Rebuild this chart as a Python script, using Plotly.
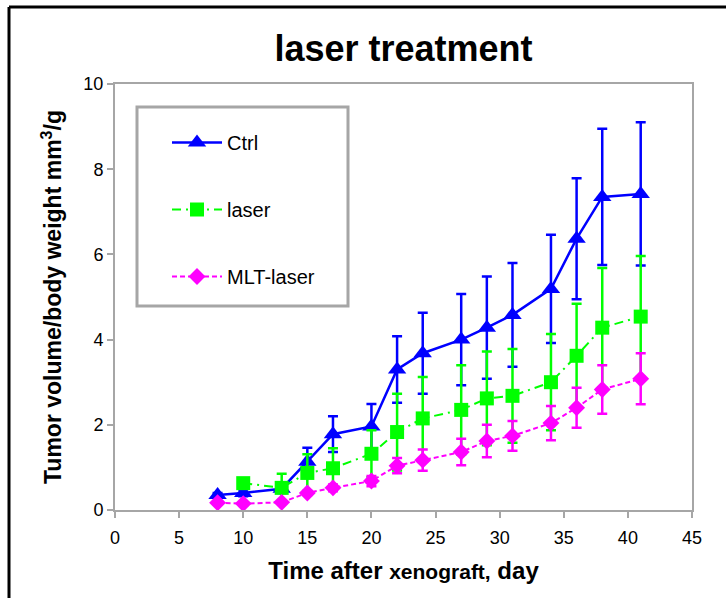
import plotly.graph_objects as go

days_ctrl = [8, 10, 13, 15, 17, 20, 22, 24, 27, 29, 31, 34, 36, 38, 41]
ctrl = [0.35, 0.40, 0.50, 1.13, 1.78, 1.96, 3.30, 3.68, 4.00, 4.28, 4.58, 5.19, 6.37, 7.35, 7.42]
ctrl_err = [0.05, 0.08, 0.10, 0.33, 0.42, 0.53, 0.78, 0.95, 1.07, 1.20, 1.22, 1.27, 1.42, 1.60, 1.68]

days_laser = [10, 13, 15, 17, 20, 22, 24, 27, 29, 31, 34, 36, 38, 41]
laser = [0.63, 0.52, 0.87, 0.98, 1.32, 1.83, 2.15, 2.35, 2.62, 2.68, 3.00, 3.62, 4.28, 4.54]
laser_err = [0.10, 0.33, 0.44, 0.47, 0.55, 0.90, 0.97, 1.05, 1.10, 1.10, 1.13, 1.22, 1.40, 1.42]

days_mlt = [8, 10, 13, 15, 17, 20, 22, 24, 27, 29, 31, 34, 36, 38, 41]
mlt = [0.17, 0.15, 0.18, 0.40, 0.52, 0.68, 1.04, 1.17, 1.36, 1.62, 1.74, 2.04, 2.40, 2.83, 3.08]
mlt_err = [0.03, 0.03, 0.03, 0.05, 0.08, 0.12, 0.18, 0.25, 0.31, 0.38, 0.35, 0.40, 0.47, 0.57, 0.60]

x_ticks = [0, 5, 10, 15, 20, 25, 30, 35, 40, 45]
y_ticks = [0, 2, 4, 6, 8, 10]

FONT = "Liberation Sans, Arial, sans-serif"
GRAY = "#a6a6a6"

fig = go.Figure()
fig.add_trace(go.Scatter(
    x=days_ctrl, y=ctrl, name="Ctrl", mode="lines+markers", legendgroup="a",
    line=dict(color="#0000ff", width=2.5),
    marker=dict(symbol="triangle-up", size=16, color="#0000ff"),
    error_y=dict(type="data", array=ctrl_err, color="#0000ff", thickness=2.5, width=5),
))
fig.add_trace(go.Scatter(
    x=days_laser, y=laser, name="laser", mode="lines+markers", legendgroup="b",
    line=dict(color="#00ff00", width=2, dash="9px,5px,2px,5px"),
    marker=dict(symbol="square", size=14, color="#00ff00"),
    error_y=dict(type="data", array=laser_err, color="#00ff00", thickness=2.5, width=5),
))
fig.add_trace(go.Scatter(
    x=days_mlt, y=mlt, name="MLT-laser", mode="lines+markers", legendgroup="c",
    line=dict(color="#ff00ff", width=2, dash="5px,3px"),
    marker=dict(symbol="diamond", size=13, color="#ff00ff"),
    error_y=dict(type="data", array=mlt_err, color="#ff00ff", thickness=2.5, width=5),
))

W, H = 726, 598
L, R, T, B = 115, 34, 84, 88
pw, ph = W - L - R, H - T - B

def px(xp):
    return (xp - L) / pw

def py(yp):
    return (H - B - yp) / ph

shapes = [
    # legend box
    dict(type="rect", xref="paper", yref="paper", x0=px(137), x1=px(348), y0=py(306), y1=py(107),
         line=dict(color=GRAY, width=3), fillcolor="rgba(0,0,0,0)", layer="below"),
    # outer black frame (top and left edges)
    dict(type="line", xref="paper", yref="paper", x0=px(9), x1=px(760), y0=py(7), y1=py(7),
         line=dict(color="black", width=3)),
    dict(type="line", xref="paper", yref="paper", x0=px(9), x1=px(9), y0=py(7), y1=py(640),
         line=dict(color="black", width=3)),
]

fig.update_layout(
    width=W, height=H,
    margin=dict(l=L, r=R, t=T, b=B, autoexpand=False),
    paper_bgcolor="white", plot_bgcolor="white",
    font=dict(family=FONT, color="black", size=17),
    title=dict(text="<b>laser treatment</b>", x=(L + pw / 2) / W, xanchor="center",
               y=1 - 48 / H, yanchor="middle", font=dict(size=36, family=FONT)),
    showlegend=True,
    legend=dict(x=px(167), y=py(123), xanchor="left", yanchor="top",
                bgcolor="rgba(0,0,0,0)", borderwidth=0, font=dict(size=20, family=FONT),
                tracegroupgap=38, itemwidth=50),
    shapes=shapes,
    xaxis=dict(range=[0, 45], tickvals=x_ticks, ticktext=[str(v) for v in x_ticks],
               showgrid=False, zeroline=False, showline=True, linecolor=GRAY, linewidth=2,
               mirror=True, ticks="outside", ticklen=6, tickcolor=GRAY, tickwidth=2,
               tickfont=dict(size=18), ticklabelstandoff=4,
               title=dict(text="<b>Time after </b><b><span style='font-size:21px'>xenograft,</span></b><b> day</b>",
                          font=dict(size=24), standoff=16)),
    yaxis=dict(range=[0, 10], tickvals=y_ticks, ticktext=[str(v) for v in y_ticks],
               showgrid=False, zeroline=False, showline=True, linecolor=GRAY, linewidth=2,
               mirror=True, ticks="outside", ticklen=6, tickcolor=GRAY, tickwidth=2,
               tickfont=dict(size=18),
               title=dict(text="<b>Tumor volume/body weight mm<sup>3</sup>/g</b>",
                          font=dict(size=23), standoff=15)),
)

fig.write_html("out.html", config={"displayModeBar": False},
               post_script="document.body.style.margin='0';")
